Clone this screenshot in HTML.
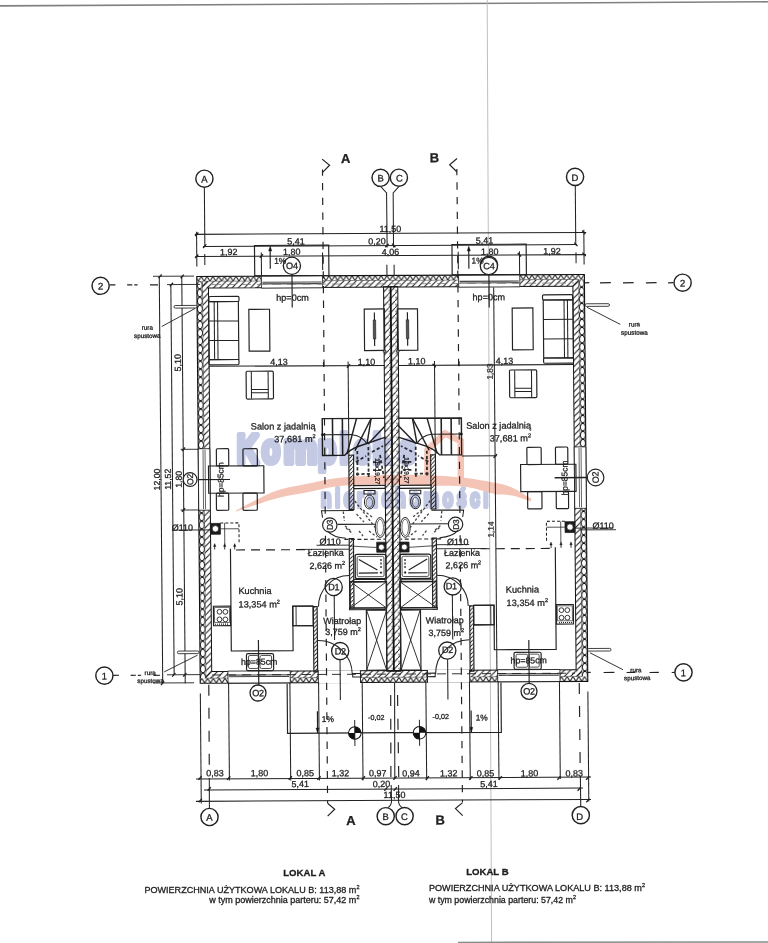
<!DOCTYPE html>
<html><head><meta charset="utf-8"><style>
html,body{margin:0;padding:0;background:#fff;}
svg{display:block;}
text{font-family:"Liberation Sans",sans-serif;}
.d text{stroke:#222;stroke-width:0.28px;}
</style></head><body>
<svg width="768" height="943" viewBox="0 0 768 943">
<rect width="768" height="943" fill="#fff"/>

<defs>
<pattern id="zzT" patternUnits="userSpaceOnUse" x="0" y="275.5" width="5.8" height="4.9"><path d="M0 0 L2.9 4.9 L5.8 0" fill="none" stroke="#111" stroke-width="1.0"/></pattern>
<pattern id="zzB" patternUnits="userSpaceOnUse" x="0" y="677.3" width="5.8" height="5.0"><path d="M0 5 L2.9 0 L5.8 5" fill="none" stroke="#111" stroke-width="1.0"/></pattern>
<pattern id="dmL" patternUnits="userSpaceOnUse" x="198.5" y="0" width="5.7" height="8.0"><path d="M2.85 -8.6 Q -2.3 -4.0 2.85 0.6 Q 8.0 -4.0 2.85 -8.6 M2.85 -0.6 Q -2.3 4.0 2.85 8.6 Q 8.0 4.0 2.85 -0.6 M2.85 7.4 Q -2.3 12.0 2.85 16.6 Q 8.0 12.0 2.85 7.4" fill="none" stroke="#111" stroke-width="0.9"/></pattern>
<pattern id="dmR" patternUnits="userSpaceOnUse" x="580.4" y="0" width="5.7" height="8.0"><path d="M2.85 -8.6 Q -2.3 -4.0 2.85 0.6 Q 8.0 -4.0 2.85 -8.6 M2.85 -0.6 Q -2.3 4.0 2.85 8.6 Q 8.0 4.0 2.85 -0.6 M2.85 7.4 Q -2.3 12.0 2.85 16.6 Q 8.0 12.0 2.85 7.4" fill="none" stroke="#111" stroke-width="0.9"/></pattern>
<pattern id="dh" patternUnits="userSpaceOnUse" width="6.2" height="6.2"><path d="M-1 7.2 L7.2 -1 M-1 1 L1 -1 M5.2 7.2 L7.2 5.2" fill="none" stroke="#111" stroke-width="1.0"/></pattern>
<pattern id="dh2" patternUnits="userSpaceOnUse" width="4" height="4"><path d="M-1 5 L5 -1" fill="none" stroke="#111" stroke-width="0.85"/></pattern>
<pattern id="brick" patternUnits="userSpaceOnUse" width="6.5" height="7"><path d="M0 7 L6.5 0" fill="none" stroke="#111" stroke-width="0.95"/><path d="M0 3.5 L3 3.5" stroke="#111" stroke-width="0.7"/></pattern>
</defs>
<g>
<line x1="0" y1="5.9" x2="768" y2="1.8" stroke="#808080" stroke-width="1.6"/>
<line x1="487.2" y1="0" x2="491.6" y2="943" stroke="#b8b8b8" stroke-width="0.9"/>
<line x1="458" y1="942.3" x2="768" y2="942.0" stroke="#8a8a8a" stroke-width="1.3"/>

<g class="d" transform="matrix(1,-0.00490,0.00848,1,-4.0704,1.9110)" font-family="Liberation Sans">
<rect x="198.5" y="275.5" width="387.6" height="4.9" fill="url(#zzT)"/>
<rect x="204.2" y="280.4" width="376.2" height="6.7" fill="url(#dh)"/>
<rect x="198.5" y="677.3" width="387.6" height="5.0" fill="url(#zzB)"/>
<rect x="204.2" y="670.7" width="376.2" height="6.6" fill="url(#dh)"/>
<rect x="198.5" y="280.4" width="5.7" height="396.9" fill="url(#dmL)"/>
<rect x="580.4" y="280.4" width="5.7" height="396.9" fill="url(#dmR)"/>
<rect x="204.2" y="280.4" width="5.9" height="396.9" fill="url(#dh)"/>
<rect x="574.5" y="280.4" width="5.9" height="396.9" fill="url(#dh)"/>
<rect x="198.5" y="275.5" width="387.6" height="406.8" fill="none" stroke="#111" stroke-width="1.1"/>
<rect x="210.1" y="287.1" width="364.4" height="383.6" fill="none" stroke="#111" stroke-width="1"/>
<rect x="204.2" y="280.4" width="376.2" height="396.9" fill="none" stroke="#333" stroke-width="0.5"/>
<rect x="385.2" y="286.6" width="14.2" height="384.6" fill="url(#brick)" stroke="#111" stroke-width="1"/>
<line x1="392.3" y1="287.1" x2="392.3" y2="670.7" stroke="#111" stroke-width="1.8"/>
<rect x="263.1" y="275.5" width="61.2" height="12" fill="#fff" stroke="#111" stroke-width="0.8"/>
<line x1="264.1" y1="281.7" x2="323.3" y2="281.7" stroke="#444" stroke-width="1.1"/>
<line x1="264.1" y1="283.3" x2="323.3" y2="283.3" stroke="#444" stroke-width="1.1"/>
<rect x="198.5" y="447.8" width="11.6" height="61.5" fill="#fff" stroke="#111" stroke-width="0.8"/>
<line x1="203.3" y1="448.8" x2="203.3" y2="508.3" stroke="#555" stroke-width="0.9"/>
<line x1="205.3" y1="448.8" x2="205.3" y2="508.3" stroke="#555" stroke-width="0.9"/>
<rect x="226.3" y="670.3" width="62.3" height="12" fill="#fff" stroke="#111" stroke-width="0.8"/>
<line x1="227.3" y1="674.3" x2="287.6" y2="674.3" stroke="#444" stroke-width="1.1"/>
<line x1="227.3" y1="675.9" x2="287.6" y2="675.9" stroke="#444" stroke-width="1.1"/>
<rect x="316.6" y="670.1" width="42.2" height="12.8" fill="#fff"/>
<line x1="316.6" y1="670.2" x2="316.6" y2="682.8" stroke="#111" stroke-width="0.9"/>
<line x1="358.8" y1="670.2" x2="358.8" y2="682.8" stroke="#111" stroke-width="0.9"/>
<rect x="460.3" y="275.5" width="61.2" height="12" fill="#fff" stroke="#111" stroke-width="0.8"/>
<line x1="461.3" y1="281.7" x2="520.5" y2="281.7" stroke="#444" stroke-width="1.1"/>
<line x1="461.3" y1="283.3" x2="520.5" y2="283.3" stroke="#444" stroke-width="1.1"/>
<rect x="574.5" y="447.8" width="11.6" height="61.5" fill="#fff" stroke="#111" stroke-width="0.8"/>
<line x1="579.3" y1="448.8" x2="579.3" y2="508.3" stroke="#555" stroke-width="0.9"/>
<line x1="581.3" y1="448.8" x2="581.3" y2="508.3" stroke="#555" stroke-width="0.9"/>
<rect x="496" y="670.3" width="62.3" height="12" fill="#fff" stroke="#111" stroke-width="0.8"/>
<line x1="497" y1="674.3" x2="557.3" y2="674.3" stroke="#444" stroke-width="1.1"/>
<line x1="497" y1="675.9" x2="557.3" y2="675.9" stroke="#444" stroke-width="1.1"/>
<rect x="425.8" y="670.1" width="42.2" height="12.8" fill="#fff"/>
<line x1="425.8" y1="670.2" x2="425.8" y2="682.8" stroke="#111" stroke-width="0.9"/>
<line x1="468" y1="670.2" x2="468" y2="682.8" stroke="#111" stroke-width="0.9"/>
<rect x="351.05" y="673.33" width="8.3" height="3.5" fill="none" stroke="#222" stroke-width="1.04"/>
<rect x="425.25" y="673.33" width="8.3" height="3.5" fill="none" stroke="#222" stroke-width="1.04"/>
<rect x="348.98" y="455.01" width="4.75" height="54.2" fill="url(#dh2)" stroke="#222" stroke-width="1.17"/>
<rect x="430.87" y="455.01" width="4.75" height="54.2" fill="url(#dh2)" stroke="#222" stroke-width="1.17"/>
<rect x="348.7" y="538.41" width="4.25" height="70.9" fill="url(#dh2)" stroke="#222" stroke-width="1.17"/>
<rect x="431.65" y="538.41" width="4.25" height="70.9" fill="url(#dh2)" stroke="#222" stroke-width="1.17"/>
<rect x="312.25" y="606.23" width="3.8" height="65.4" fill="url(#dh2)" stroke="#222" stroke-width="1.17"/>
<rect x="468.55" y="606.23" width="3.8" height="65.4" fill="url(#dh2)" stroke="#222" stroke-width="1.17"/>
<rect x="353.69" y="485.4" width="31.45" height="3" fill="#fff" stroke="#222" stroke-width="1.17"/>
<rect x="399.46" y="485.4" width="31.45" height="3" fill="#fff" stroke="#222" stroke-width="1.17"/>
<rect x="352.9" y="579.3" width="31.45" height="2.6" fill="#fff" stroke="#222" stroke-width="1.17"/>
<rect x="400.25" y="579.3" width="31.45" height="2.6" fill="#fff" stroke="#222" stroke-width="1.17"/>
<rect x="348.41" y="607.78" width="35.7" height="1.7" fill="#fff" stroke="#222" stroke-width="1.04"/>
<rect x="400.49" y="607.78" width="35.7" height="1.7" fill="#fff" stroke="#222" stroke-width="1.04"/>
<line x1="206.84" y1="186.4" x2="206.84" y2="246.1" stroke="#222" stroke-width="1.04"/>
<line x1="577.76" y1="186.4" x2="577.76" y2="246.1" stroke="#222" stroke-width="1.04"/>
<line x1="206.68" y1="253.1" x2="206.68" y2="264.1" stroke="#222" stroke-width="1.04"/>
<line x1="577.92" y1="253.1" x2="577.92" y2="264.1" stroke="#222" stroke-width="1.04"/>
<path d="M 383.3 186.59 L 389 192.99 L 389.1 247.49" fill="none" stroke="#222" stroke-width="1.04"/>
<path d="M 401.3 186.59 L 395.6 192.99 L 395.5 247.49" fill="none" stroke="#222" stroke-width="1.04"/>
<line x1="388.68" y1="264.79" x2="388.68" y2="275.99" stroke="#222" stroke-width="1.04"/>
<line x1="395.92" y1="264.79" x2="395.92" y2="275.99" stroke="#222" stroke-width="1.04"/>
<line x1="207.07" y1="683.9" x2="206.85" y2="769.1" stroke="#222" stroke-width="1.17" stroke-dasharray="11 12"/>
<line x1="577.53" y1="683.9" x2="577.75" y2="769.1" stroke="#222" stroke-width="1.17" stroke-dasharray="11 12"/>
<line x1="206.78" y1="777" x2="206.62" y2="807.6" stroke="#222" stroke-width="1.04"/>
<line x1="577.82" y1="777" x2="577.98" y2="807.6" stroke="#222" stroke-width="1.04"/>
<line x1="388.88" y1="694.99" x2="388.38" y2="776.99" stroke="#222" stroke-width="1.17" stroke-dasharray="11 12.7"/>
<line x1="395.72" y1="694.99" x2="396.22" y2="776.99" stroke="#222" stroke-width="1.17" stroke-dasharray="11 12.7"/>
<path d="M 388.59 784.99 L 388.79 800.99 Q 388.79 805.49 384.79 807.79" fill="none" stroke="#222" stroke-width="1.04"/>
<path d="M 396.01 784.99 L 395.81 800.99 Q 395.81 805.49 399.81 807.79" fill="none" stroke="#222" stroke-width="1.04"/>
<line x1="392.88" y1="683.01" x2="392.26" y2="779.01" stroke="#222" stroke-width="1.04"/>
<line x1="325.13" y1="169.28" x2="325.13" y2="175.48" stroke="#222" stroke-width="1.17"/>
<line x1="459.47" y1="169.28" x2="459.47" y2="175.48" stroke="#222" stroke-width="1.17"/>
<line x1="325.07" y1="182.68" x2="324.86" y2="802.68" stroke="#222" stroke-width="1.17" stroke-dasharray="7.3 7.4"/>
<line x1="459.53" y1="182.68" x2="459.74" y2="802.68" stroke="#222" stroke-width="1.17" stroke-dasharray="7.3 7.4"/>
<path d="M 324.87 158.79 L 332.27 164.99 L 325.17 172.09" fill="none" stroke="#222" stroke-width="1.17"/>
<path d="M 459.73 158.79 L 452.33 164.99 L 459.43 172.09" fill="none" stroke="#222" stroke-width="1.17"/>
<path d="M 324.81 802.99 L 331.91 808.89 L 324.81 815.89" fill="none" stroke="#222" stroke-width="1.17"/>
<path d="M 459.79 802.99 L 452.69 808.89 L 459.79 815.89" fill="none" stroke="#222" stroke-width="1.17"/>
<line x1="111.27" y1="283.55" x2="117.07" y2="283.55" stroke="#222" stroke-width="1.17"/>
<line x1="128.77" y1="283.63" x2="133.97" y2="283.63" stroke="#222" stroke-width="1.17"/>
<line x1="135.96" y1="283.66" x2="139.26" y2="283.66" stroke="#222" stroke-width="1.17"/>
<line x1="151.66" y1="283.75" x2="159.66" y2="283.75" stroke="#222" stroke-width="1.17"/>
<line x1="586.26" y1="283.76" x2="590.96" y2="283.68" stroke="#222" stroke-width="1.17"/>
<line x1="601.66" y1="283.84" x2="612.46" y2="283.79" stroke="#222" stroke-width="1.17"/>
<line x1="624.66" y1="283.95" x2="635.36" y2="283.9" stroke="#222" stroke-width="1.17"/>
<line x1="647.56" y1="284.06" x2="658.26" y2="284.01" stroke="#222" stroke-width="1.17"/>
<line x1="669.76" y1="284.17" x2="675.16" y2="284.1" stroke="#222" stroke-width="1.17"/>
<line x1="111.56" y1="673.95" x2="117.36" y2="673.95" stroke="#222" stroke-width="1.17"/>
<line x1="129.05" y1="674.03" x2="134.25" y2="674.03" stroke="#222" stroke-width="1.17"/>
<line x1="136.25" y1="674.06" x2="139.55" y2="674.06" stroke="#222" stroke-width="1.17"/>
<line x1="151.95" y1="674.15" x2="158.35" y2="674.15" stroke="#222" stroke-width="1.17"/>
<line x1="585.76" y1="673.46" x2="589.06" y2="673.38" stroke="#222" stroke-width="1.17"/>
<line x1="601.96" y1="673.54" x2="612.76" y2="673.49" stroke="#222" stroke-width="1.17"/>
<line x1="624.96" y1="673.65" x2="633.56" y2="673.59" stroke="#222" stroke-width="1.17"/>
<line x1="647.86" y1="673.76" x2="657.16" y2="673.71" stroke="#222" stroke-width="1.17"/>
<line x1="670.06" y1="673.87" x2="673.66" y2="673.79" stroke="#222" stroke-width="1.17"/>
<line x1="210.35" y1="674.12" x2="573.35" y2="674.1" stroke="#222" stroke-width="0.91" stroke-dasharray="9 6"/>
<line x1="213.66" y1="283.74" x2="575.66" y2="283.91" stroke="#777" stroke-width="0.78" stroke-dasharray="9 6"/>
<circle cx="206.96" cy="177.8" r="8.6" fill="#fff" stroke="#222" stroke-width="1.43"/>
<circle cx="577.64" cy="177.8" r="8.6" fill="#fff" stroke="#222" stroke-width="1.43"/>
<circle cx="383.16" cy="177.77" r="8.6" fill="#fff" stroke="#222" stroke-width="1.43"/>
<circle cx="401.44" cy="177.77" r="8.6" fill="#fff" stroke="#222" stroke-width="1.43"/>
<circle cx="206.65" cy="816.1" r="8.6" fill="#fff" stroke="#222" stroke-width="1.43"/>
<circle cx="577.95" cy="816.1" r="8.6" fill="#fff" stroke="#222" stroke-width="1.43"/>
<circle cx="382.85" cy="816.16" r="8.6" fill="#fff" stroke="#222" stroke-width="1.43"/>
<circle cx="401.75" cy="816.16" r="8.6" fill="#fff" stroke="#222" stroke-width="1.43"/>
<circle cx="102.26" cy="284.39" r="8.6" fill="#fff" stroke="#222" stroke-width="1.43"/>
<circle cx="102.75" cy="674.19" r="8.6" fill="#fff" stroke="#222" stroke-width="1.43"/>
<circle cx="684.26" cy="284.14" r="8.6" fill="#fff" stroke="#222" stroke-width="1.43"/>
<circle cx="681.86" cy="673.83" r="8.6" fill="#fff" stroke="#222" stroke-width="1.43"/>
<text x="206.96" y="178.1" font-size="9.5" text-anchor="middle" dominant-baseline="central" fill="#222">A</text>
<text x="383.16" y="178.07" font-size="9.5" text-anchor="middle" dominant-baseline="central" fill="#222">B</text>
<text x="402.06" y="178.16" font-size="9.5" text-anchor="middle" dominant-baseline="central" fill="#222">C</text>
<text x="577.36" y="178.42" font-size="9.5" text-anchor="middle" dominant-baseline="central" fill="#222">D</text>
<text x="206.65" y="816.4" font-size="9.5" text-anchor="middle" dominant-baseline="central" fill="#222">A</text>
<text x="382.85" y="816.46" font-size="9.5" text-anchor="middle" dominant-baseline="central" fill="#222">B</text>
<text x="401.55" y="816.56" font-size="9.5" text-anchor="middle" dominant-baseline="central" fill="#222">C</text>
<text x="576.84" y="817.42" font-size="9.5" text-anchor="middle" dominant-baseline="central" fill="#222">D</text>
<text x="102.26" y="284.69" font-size="9.5" text-anchor="middle" dominant-baseline="central" fill="#222">2</text>
<text x="102.75" y="674.49" font-size="9.5" text-anchor="middle" dominant-baseline="central" fill="#222">1</text>
<text x="684.26" y="284.44" font-size="9.5" text-anchor="middle" dominant-baseline="central" fill="#222">2</text>
<text x="681.85" y="674.13" font-size="9.5" text-anchor="middle" dominant-baseline="central" fill="#222">1</text>
<text x="348.33" y="158.4" font-size="13" text-anchor="middle" dominant-baseline="central" font-weight="bold" fill="#222">A</text>
<text x="437.13" y="158.03" font-size="13" text-anchor="middle" dominant-baseline="central" font-weight="bold" fill="#222">B</text>
<text x="348.11" y="820.29" font-size="13" text-anchor="middle" dominant-baseline="central" font-weight="bold" fill="#222">A</text>
<text x="437.32" y="820.13" font-size="13" text-anchor="middle" dominant-baseline="central" font-weight="bold" fill="#222">B</text>
<line x1="196.89" y1="233.41" x2="588.29" y2="233.41" stroke="#222" stroke-width="1.04"/>
<line x1="204.99" y1="245.51" x2="578.99" y2="245.51" stroke="#222" stroke-width="1.04"/>
<line x1="197.2" y1="255.61" x2="587.9" y2="255.61" stroke="#222" stroke-width="1.04"/>
<line x1="198.67" y1="230.76" x2="198.67" y2="265.56" stroke="#222" stroke-width="1.04"/>
<line x1="585.93" y1="230.76" x2="585.93" y2="265.56" stroke="#222" stroke-width="1.04"/>
<line x1="263.23" y1="251.88" x2="263.23" y2="275.38" stroke="#222" stroke-width="1.04"/>
<line x1="521.37" y1="251.88" x2="521.37" y2="275.38" stroke="#222" stroke-width="1.04"/>
<line x1="324.46" y1="252.18" x2="324.46" y2="269.68" stroke="#222" stroke-width="1.04"/>
<line x1="460.14" y1="252.18" x2="460.14" y2="269.68" stroke="#222" stroke-width="1.04"/>
<line x1="197.18" y1="235.16" x2="200.41" y2="231.57" stroke="#222" stroke-width="1.3"/>
<line x1="587.42" y1="235.16" x2="584.19" y2="231.57" stroke="#222" stroke-width="1.3"/>
<line x1="196.99" y1="257.15" x2="200.22" y2="253.57" stroke="#222" stroke-width="1.3"/>
<line x1="587.61" y1="257.15" x2="584.38" y2="253.57" stroke="#222" stroke-width="1.3"/>
<line x1="205.08" y1="247.09" x2="208.31" y2="243.51" stroke="#222" stroke-width="1.3"/>
<line x1="579.52" y1="247.09" x2="576.29" y2="243.51" stroke="#222" stroke-width="1.3"/>
<line x1="261.69" y1="257.17" x2="264.92" y2="253.59" stroke="#222" stroke-width="1.3"/>
<line x1="522.91" y1="257.17" x2="519.68" y2="253.59" stroke="#222" stroke-width="1.3"/>
<line x1="387.27" y1="247.29" x2="390.5" y2="243.7" stroke="#222" stroke-width="1.3"/>
<line x1="397.33" y1="247.29" x2="394.1" y2="243.7" stroke="#222" stroke-width="1.3"/>
<text x="392.43" y="229.01" font-size="9.0" text-anchor="middle" dominant-baseline="central" fill="#222">11,50</text>
<text x="298.03" y="240.95" font-size="9.0" text-anchor="middle" dominant-baseline="central" fill="#222">5,41</text>
<text x="379.02" y="241.35" font-size="9.0" text-anchor="middle" dominant-baseline="central" fill="#222">0,20</text>
<text x="486.63" y="241.07" font-size="9.0" text-anchor="middle" dominant-baseline="central" fill="#222">5,41</text>
<text x="230.64" y="251.32" font-size="9.0" text-anchor="middle" dominant-baseline="central" fill="#222">1,92</text>
<text x="293.64" y="251.43" font-size="9.0" text-anchor="middle" dominant-baseline="central" fill="#222">1,80</text>
<text x="392.53" y="252.11" font-size="9.0" text-anchor="middle" dominant-baseline="central" fill="#222">4,06</text>
<text x="491.63" y="252.2" font-size="9.0" text-anchor="middle" dominant-baseline="central" fill="#222">1,80</text>
<text x="553.83" y="252.1" font-size="9.0" text-anchor="middle" dominant-baseline="central" fill="#222">1,92</text>
<rect x="256.47" y="244.83" width="74.2" height="30.4" fill="none" stroke="#222" stroke-width="1.17"/>
<rect x="453.93" y="244.83" width="74.2" height="30.4" fill="none" stroke="#222" stroke-width="1.17"/>
<circle cx="293.72" cy="265.33" r="8.6" fill="#fff" stroke="#222" stroke-width="1.3"/>
<circle cx="490.88" cy="265.33" r="8.6" fill="#fff" stroke="#222" stroke-width="1.3"/>
<text x="293.72" y="265.63" font-size="9.2" text-anchor="middle" dominant-baseline="central" letter-spacing="-0.3" fill="#222">O4</text>
<circle cx="490.71" cy="266.49" r="8.6" fill="#fff" stroke="#222" stroke-width="1.3"/>
<text x="490.71" y="266.79" font-size="9.2" text-anchor="middle" dominant-baseline="central" letter-spacing="-0.3" fill="#222">C4</text>
<line x1="293.71" y1="274.13" x2="293.71" y2="306.93" stroke="#222" stroke-width="1.17"/>
<line x1="490.64" y1="275.09" x2="490.66" y2="307.89" stroke="#222" stroke-width="1.17"/>
<line x1="272.08" y1="268.12" x2="272.08" y2="247.92" stroke="#222" stroke-width="1.17"/>
<path d="M 270.56 250.42 L 272.16 245.42 L 273.76 250.42 Z" fill="#111" stroke="#222" stroke-width="0.39"/>
<text x="282.06" y="260.27" font-size="8.4" text-anchor="middle" dominant-baseline="central" fill="#222">1%</text>
<line x1="470.67" y1="269.1" x2="470.67" y2="248.9" stroke="#222" stroke-width="1.17"/>
<path d="M 469.15 251.4 L 470.75 246.4 L 472.35 251.4 Z" fill="#111" stroke="#222" stroke-width="0.39"/>
<text x="479.46" y="261.04" font-size="8.4" text-anchor="middle" dominant-baseline="central" fill="#222">1%</text>
<text x="294.05" y="297.33" font-size="9.1" text-anchor="middle" dominant-baseline="central" fill="#222">hp=0cm</text>
<text x="490.35" y="297.69" font-size="9.1" text-anchor="middle" dominant-baseline="central" fill="#222">hp=0cm</text>
<line x1="161.01" y1="275.18" x2="161.01" y2="682.18" stroke="#222" stroke-width="1.04"/>
<line x1="172.51" y1="283.33" x2="172.51" y2="673.93" stroke="#222" stroke-width="1.04"/>
<line x1="183.51" y1="275.29" x2="183.51" y2="682.29" stroke="#222" stroke-width="1.04"/>
<line x1="154.74" y1="275.15" x2="195.74" y2="275.15" stroke="#222" stroke-width="0.91"/>
<line x1="168.67" y1="283.52" x2="201.67" y2="283.48" stroke="#222" stroke-width="0.91"/>
<line x1="151.29" y1="681.83" x2="192.29" y2="681.83" stroke="#222" stroke-width="0.91"/>
<line x1="165.36" y1="673.7" x2="198.36" y2="673.66" stroke="#222" stroke-width="0.91"/>
<line x1="160.22" y1="276.97" x2="163.45" y2="273.39" stroke="#222" stroke-width="1.3"/>
<line x1="171.45" y1="285.33" x2="174.68" y2="281.74" stroke="#222" stroke-width="1.3"/>
<line x1="182.32" y1="277.18" x2="185.55" y2="273.6" stroke="#222" stroke-width="1.3"/>
<line x1="182.15" y1="450.08" x2="185.38" y2="446.5" stroke="#222" stroke-width="1.3"/>
<line x1="181.64" y1="510.78" x2="184.87" y2="507.19" stroke="#222" stroke-width="1.3"/>
<line x1="170.54" y1="675.52" x2="173.77" y2="671.94" stroke="#222" stroke-width="1.3"/>
<line x1="181.54" y1="675.58" x2="184.77" y2="671.99" stroke="#222" stroke-width="1.3"/>
<line x1="159.27" y1="683.87" x2="162.5" y2="680.29" stroke="#222" stroke-width="1.3"/>
<line x1="180.87" y1="448.32" x2="199.27" y2="448.32" stroke="#222" stroke-width="0.91"/>
<line x1="180.35" y1="509.02" x2="198.75" y2="509.02" stroke="#222" stroke-width="0.91"/>
<text x="178.9" y="361.77" font-size="9.0" text-anchor="middle" dominant-baseline="central" transform="rotate(-90 178.9 361.77)" fill="#222">5,10</text>
<text x="178.52" y="595.66" font-size="9.0" text-anchor="middle" dominant-baseline="central" transform="rotate(-90 178.52 595.66)" fill="#222">5,10</text>
<text x="157.01" y="478.36" font-size="8.7" text-anchor="middle" dominant-baseline="central" transform="rotate(-90 157.01 478.36)" fill="#222">12,00</text>
<text x="167.92" y="478.21" font-size="8.7" text-anchor="middle" dominant-baseline="central" transform="rotate(-90 167.92 478.21)" fill="#222">11,52</text>
<text x="178.81" y="478.27" font-size="8.7" text-anchor="middle" dominant-baseline="central" transform="rotate(-90 178.81 478.27)" fill="#222">1,80</text>
<line x1="495.3" y1="288.02" x2="495.3" y2="671.02" stroke="#222" stroke-width="1.04"/>
<line x1="493.68" y1="458.21" x2="497.32" y2="454.63" stroke="#222" stroke-width="1.3"/>
<line x1="462.2" y1="456.34" x2="497.2" y2="456.34" stroke="#222" stroke-width="1.04"/>
<text x="491.12" y="372" font-size="8.2" text-anchor="middle" dominant-baseline="central" transform="rotate(-90 491.12 372)" fill="#555">1,83</text>
<text x="490.88" y="529.99" font-size="8.2" text-anchor="middle" dominant-baseline="central" transform="rotate(-90 490.88 529.99)" fill="#555">1,14</text>
<line x1="198.53" y1="692.56" x2="198.53" y2="802.46" stroke="#222" stroke-width="1.04"/>
<line x1="586.07" y1="692.56" x2="586.07" y2="802.46" stroke="#222" stroke-width="1.04"/>
<line x1="226.87" y1="681.7" x2="226.87" y2="779.7" stroke="#222" stroke-width="1.04"/>
<line x1="557.73" y1="681.7" x2="557.73" y2="779.7" stroke="#222" stroke-width="1.04"/>
<line x1="288.17" y1="682" x2="288.17" y2="780" stroke="#222" stroke-width="1.04"/>
<line x1="496.43" y1="682" x2="496.43" y2="780" stroke="#222" stroke-width="1.04"/>
<line x1="316.87" y1="682.14" x2="316.87" y2="780.14" stroke="#222" stroke-width="1.04"/>
<line x1="467.73" y1="682.14" x2="467.73" y2="780.14" stroke="#222" stroke-width="1.04"/>
<line x1="360.47" y1="682.36" x2="360.47" y2="780.36" stroke="#222" stroke-width="1.04"/>
<line x1="424.13" y1="682.36" x2="424.13" y2="780.36" stroke="#222" stroke-width="1.04"/>
<line x1="193.47" y1="778" x2="588.47" y2="778" stroke="#222" stroke-width="1.04"/>
<line x1="201.38" y1="789" x2="580.38" y2="789" stroke="#222" stroke-width="1.04"/>
<line x1="193.28" y1="800.4" x2="588.28" y2="800.4" stroke="#222" stroke-width="1.04"/>
<line x1="195.87" y1="778.85" x2="199.1" y2="775.26" stroke="#222" stroke-width="1.3"/>
<line x1="224.56" y1="778.99" x2="227.79" y2="775.41" stroke="#222" stroke-width="1.3"/>
<line x1="286.16" y1="779.29" x2="289.39" y2="775.71" stroke="#222" stroke-width="1.3"/>
<line x1="314.86" y1="779.43" x2="318.09" y2="775.85" stroke="#222" stroke-width="1.3"/>
<line x1="359.26" y1="779.65" x2="362.49" y2="776.07" stroke="#222" stroke-width="1.3"/>
<line x1="390.86" y1="779.8" x2="394.09" y2="776.22" stroke="#222" stroke-width="1.3"/>
<line x1="423.16" y1="779.96" x2="426.39" y2="776.38" stroke="#222" stroke-width="1.3"/>
<line x1="466.65" y1="780.18" x2="469.88" y2="776.59" stroke="#222" stroke-width="1.3"/>
<line x1="496.15" y1="780.32" x2="499.38" y2="776.74" stroke="#222" stroke-width="1.3"/>
<line x1="554.85" y1="780.61" x2="558.08" y2="777.02" stroke="#222" stroke-width="1.3"/>
<line x1="583.55" y1="780.75" x2="586.78" y2="777.16" stroke="#222" stroke-width="1.3"/>
<line x1="204.97" y1="789.89" x2="208.2" y2="786.31" stroke="#222" stroke-width="1.3"/>
<line x1="381.66" y1="790.76" x2="384.9" y2="787.17" stroke="#222" stroke-width="1.3"/>
<line x1="391.06" y1="790.81" x2="394.29" y2="787.22" stroke="#222" stroke-width="1.3"/>
<line x1="574.96" y1="791.71" x2="578.19" y2="788.12" stroke="#222" stroke-width="1.3"/>
<line x1="195.98" y1="801.25" x2="199.21" y2="797.67" stroke="#222" stroke-width="1.3"/>
<line x1="583.56" y1="803.15" x2="586.79" y2="799.56" stroke="#222" stroke-width="1.3"/>
<text x="212.52" y="772.43" font-size="9.0" text-anchor="middle" dominant-baseline="central" fill="#222">0,83</text>
<text x="256.92" y="772.65" font-size="9.0" text-anchor="middle" dominant-baseline="central" fill="#222">1,80</text>
<text x="302.72" y="772.87" font-size="9.0" text-anchor="middle" dominant-baseline="central" fill="#222">0,85</text>
<text x="338.01" y="773.05" font-size="9.0" text-anchor="middle" dominant-baseline="central" fill="#222">1,32</text>
<text x="375.21" y="773.23" font-size="9.0" text-anchor="middle" dominant-baseline="central" fill="#222">0,97</text>
<text x="408.51" y="773.49" font-size="9.0" text-anchor="middle" dominant-baseline="central" fill="#222">0,94</text>
<text x="446.31" y="773.68" font-size="9.0" text-anchor="middle" dominant-baseline="central" fill="#222">1,32</text>
<text x="482.91" y="773.86" font-size="9.0" text-anchor="middle" dominant-baseline="central" fill="#222">0,85</text>
<text x="527.11" y="774.07" font-size="9.0" text-anchor="middle" dominant-baseline="central" fill="#222">1,80</text>
<text x="571.7" y="774.29" font-size="9.0" text-anchor="middle" dominant-baseline="central" fill="#222">0,83</text>
<text x="297.73" y="783.65" font-size="9.0" text-anchor="middle" dominant-baseline="central" fill="#222">5,41</text>
<text x="378.82" y="784.05" font-size="9.0" text-anchor="middle" dominant-baseline="central" fill="#222">0,20</text>
<text x="486.32" y="784.57" font-size="9.0" text-anchor="middle" dominant-baseline="central" fill="#222">5,41</text>
<text x="391.83" y="795.01" font-size="9.0" text-anchor="middle" dominant-baseline="central" fill="#222">11,50</text>
<path d="M 285.4 683.16 L 285.4 732.86 L 393 732.66" fill="none" stroke="#222" stroke-width="1.17"/>
<path d="M 499.2 683.16 L 499.2 732.86 L 391.6 732.66" fill="none" stroke="#222" stroke-width="1.17"/>
<line x1="315.45" y1="710.93" x2="315.45" y2="732.63" stroke="#222" stroke-width="1.17"/>
<line x1="469.15" y1="710.93" x2="469.15" y2="732.63" stroke="#222" stroke-width="1.17"/>
<path d="M 313.89 727.63 L 315.39 732.63 L 316.89 727.63 Z" fill="#111" stroke="#222" stroke-width="0.39"/>
<path d="M 470.71 727.63 L 469.21 732.63 L 467.71 727.63 Z" fill="#111" stroke="#222" stroke-width="0.39"/>
<text x="325.78" y="718.59" font-size="8.4" text-anchor="middle" dominant-baseline="central" fill="#222">1%</text>
<text x="479.68" y="717.94" font-size="8.4" text-anchor="middle" dominant-baseline="central" fill="#222">1%</text>
<circle cx="352.66" cy="732.82" r="6.3" fill="#fff" stroke="#111" stroke-width="1"/>
<path d="M 352.66 732.82 L 352.66 726.52 A 6.3 6.3 0 0 1 358.96 732.82 Z" fill="#111"/>
<path d="M 352.66 732.82 L 352.66 739.12 A 6.3 6.3 0 0 1 346.36 732.82 Z" fill="#111"/>
<line x1="352.66" y1="719.82" x2="352.66" y2="745.82" stroke="#111" stroke-width="0.9"/>
<circle cx="417.36" cy="732.93" r="6.3" fill="#fff" stroke="#111" stroke-width="1"/>
<path d="M 417.36 732.93 L 417.36 726.63 A 6.3 6.3 0 0 1 423.66 732.93 Z" fill="#111"/>
<path d="M 417.36 732.93 L 417.36 739.23 A 6.3 6.3 0 0 1 411.06 732.93 Z" fill="#111"/>
<line x1="417.36" y1="719.93" x2="417.36" y2="745.93" stroke="#111" stroke-width="0.9"/>
<text x="374.29" y="717.42" font-size="7.2" text-anchor="middle" dominant-baseline="central" fill="#222">-0,02</text>
<text x="438.69" y="716.84" font-size="7.2" text-anchor="middle" dominant-baseline="central" fill="#222">-0,02</text>
<circle cx="256.2" cy="692.34" r="8.0" fill="#fff" stroke="#222" stroke-width="1.3"/>
<circle cx="527.2" cy="691.97" r="8.0" fill="#fff" stroke="#222" stroke-width="1.3"/>
<text x="256.2" y="692.64" font-size="9.2" text-anchor="middle" dominant-baseline="central" letter-spacing="-0.3" fill="#222">O2</text>
<text x="527.2" y="692.27" font-size="9.2" text-anchor="middle" dominant-baseline="central" letter-spacing="-0.3" fill="#222">O2</text>
<line x1="257.06" y1="639.35" x2="257.06" y2="684.35" stroke="#222" stroke-width="1.17"/>
<line x1="527.45" y1="640.67" x2="527.45" y2="684.17" stroke="#222" stroke-width="1.17"/>
<rect x="175.48" y="304.45" width="23" height="2.6" rx="1.3" fill="#fff" stroke="#111" stroke-width="0.8"/>
<rect x="175.95" y="650.05" width="21.6" height="2.6" rx="1.3" fill="#fff" stroke="#111" stroke-width="0.8"/>
<rect x="586.47" y="304.76" width="24.5" height="2.6" rx="1.3" fill="#fff" stroke="#111" stroke-width="0.8"/>
<rect x="586.05" y="649.46" width="23.5" height="2.6" rx="1.3" fill="#fff" stroke="#111" stroke-width="0.8"/>
<line x1="163.01" y1="325.39" x2="196.46" y2="307.55" stroke="#222" stroke-width="0.91"/>
<line x1="162.58" y1="670.79" x2="196.02" y2="654.25" stroke="#222" stroke-width="0.91"/>
<line x1="621.61" y1="325.53" x2="588.46" y2="308.27" stroke="#222" stroke-width="0.91"/>
<line x1="621.38" y1="670.83" x2="588.53" y2="653.77" stroke="#222" stroke-width="0.91"/>
<text x="148.6" y="326.12" font-size="6.3" text-anchor="middle" dominant-baseline="central" fill="#222">rura</text>
<text x="148.54" y="334.22" font-size="6.3" text-anchor="middle" dominant-baseline="central" fill="#222">spustowa</text>
<text x="148.58" y="671.42" font-size="6.3" text-anchor="middle" dominant-baseline="central" fill="#222">rura</text>
<text x="148.91" y="679.22" font-size="6.3" text-anchor="middle" dominant-baseline="central" fill="#222">spustowa</text>
<text x="635.71" y="325.1" font-size="6.3" text-anchor="middle" dominant-baseline="central" fill="#222">rura</text>
<text x="635.64" y="333.4" font-size="6.3" text-anchor="middle" dominant-baseline="central" fill="#222">spustowa</text>
<text x="634.28" y="670.9" font-size="6.3" text-anchor="middle" dominant-baseline="central" fill="#222">rura</text>
<text x="635.61" y="678.8" font-size="6.3" text-anchor="middle" dominant-baseline="central" fill="#222">spustowa</text>
<rect x="210.44" y="295.59" width="30.1" height="5.2" fill="none" stroke="#222" stroke-width="1.17" rx="1.2"/>
<rect x="544.06" y="295.59" width="30.1" height="5.2" fill="none" stroke="#222" stroke-width="1.17" rx="1.2"/>
<rect x="210.17" y="300.79" width="29.7" height="58" fill="none" stroke="#222" stroke-width="1.17"/>
<rect x="544.73" y="300.79" width="29.7" height="58" fill="none" stroke="#222" stroke-width="1.17"/>
<rect x="209.91" y="358.79" width="30.1" height="5.2" fill="none" stroke="#222" stroke-width="1.17" rx="1.2"/>
<rect x="544.59" y="358.79" width="30.1" height="5.2" fill="none" stroke="#222" stroke-width="1.17" rx="1.2"/>
<line x1="215.67" y1="300.75" x2="215.67" y2="358.75" stroke="#222" stroke-width="1.04"/>
<line x1="568.93" y1="300.75" x2="568.93" y2="358.75" stroke="#222" stroke-width="1.04"/>
<line x1="219.07" y1="300.76" x2="219.07" y2="358.76" stroke="#222" stroke-width="1.04"/>
<line x1="565.53" y1="300.76" x2="565.53" y2="358.76" stroke="#222" stroke-width="1.04"/>
<line x1="210.26" y1="320.19" x2="239.96" y2="320.19" stroke="#222" stroke-width="1.04"/>
<line x1="574.34" y1="320.19" x2="544.64" y2="320.19" stroke="#222" stroke-width="1.04"/>
<line x1="210.09" y1="339.69" x2="239.79" y2="339.69" stroke="#222" stroke-width="1.04"/>
<line x1="574.51" y1="339.69" x2="544.81" y2="339.69" stroke="#222" stroke-width="1.04"/>
<rect x="250.28" y="308.67" width="20.7" height="41.8" fill="none" stroke="#222" stroke-width="1.17"/>
<rect x="513.62" y="308.67" width="20.7" height="41.8" fill="none" stroke="#222" stroke-width="1.17"/>
<rect x="247.01" y="370.57" width="27.2" height="27.8" fill="none" stroke="#222" stroke-width="1.17" rx="1.2"/>
<rect x="510.39" y="370.57" width="27.2" height="27.8" fill="none" stroke="#222" stroke-width="1.17" rx="1.2"/>
<line x1="252.21" y1="370.92" x2="252.21" y2="397.92" stroke="#222" stroke-width="1.04"/>
<line x1="532.39" y1="370.92" x2="532.39" y2="397.92" stroke="#222" stroke-width="1.04"/>
<line x1="269.01" y1="371.01" x2="269.01" y2="398.01" stroke="#222" stroke-width="1.04"/>
<line x1="515.59" y1="371.01" x2="515.59" y2="398.01" stroke="#222" stroke-width="1.04"/>
<line x1="252.17" y1="388.87" x2="268.97" y2="388.87" stroke="#222" stroke-width="1.04"/>
<line x1="532.43" y1="388.87" x2="515.63" y2="388.87" stroke="#222" stroke-width="1.04"/>
<line x1="252.14" y1="392.17" x2="268.94" y2="392.17" stroke="#222" stroke-width="1.04"/>
<line x1="532.46" y1="392.17" x2="515.66" y2="392.17" stroke="#222" stroke-width="1.04"/>
<rect x="365.67" y="308.93" width="20.2" height="41.5" fill="none" stroke="#222" stroke-width="1.17"/>
<rect x="398.73" y="308.93" width="20.2" height="41.5" fill="none" stroke="#222" stroke-width="1.17"/>
<path d="M 375.78 312.43 L 375.78 345.93" fill="none" stroke="#222" stroke-width="1.17"/>
<path d="M 408.82 312.43 L 408.82 345.93" fill="none" stroke="#222" stroke-width="1.17"/>
<path d="M 374.58 319.93 L 376.98 319.93 L 376.98 338.93 L 374.58 338.93 Z" fill="#555" stroke="#222" stroke-width="0.65"/>
<path d="M 410.02 319.93 L 407.62 319.93 L 407.62 338.93 L 410.02 338.93 Z" fill="#555" stroke="#222" stroke-width="0.65"/>
<circle cx="385.79" cy="351.28" r="1.4" fill="#888" stroke="#222" stroke-width="0.78"/>
<circle cx="398.81" cy="351.28" r="1.4" fill="#888" stroke="#222" stroke-width="0.78"/>
<line x1="209.57" y1="365.45" x2="385.77" y2="365.45" stroke="#222" stroke-width="1.04"/>
<line x1="575.03" y1="365.45" x2="398.83" y2="365.45" stroke="#222" stroke-width="1.04"/>
<line x1="349.11" y1="361.3" x2="349.11" y2="455.6" stroke="#222" stroke-width="1.04"/>
<line x1="435.49" y1="361.3" x2="435.49" y2="455.6" stroke="#222" stroke-width="1.04"/>
<line x1="347.85" y1="367.49" x2="351.08" y2="363.91" stroke="#222" stroke-width="1.3"/>
<line x1="436.75" y1="367.49" x2="433.52" y2="363.91" stroke="#222" stroke-width="1.3"/>
<line x1="324.48" y1="361.68" x2="324.48" y2="366.68" stroke="#222" stroke-width="1.04"/>
<line x1="460.12" y1="361.68" x2="460.12" y2="366.68" stroke="#222" stroke-width="1.04"/>
<text x="280.11" y="361.46" font-size="9.0" text-anchor="middle" dominant-baseline="central" fill="#222">4,13</text>
<text x="367.6" y="361.89" font-size="9.0" text-anchor="middle" dominant-baseline="central" fill="#222">1,10</text>
<text x="417.71" y="361.34" font-size="9.0" text-anchor="middle" dominant-baseline="central" fill="#222">1,10</text>
<text x="505.61" y="361.47" font-size="9.0" text-anchor="middle" dominant-baseline="central" fill="#222">4,13</text>
<rect x="208.61" y="465.15" width="55.3" height="27.2" fill="none" stroke="#222" stroke-width="1.17"/>
<rect x="520.69" y="465.15" width="55.3" height="27.2" fill="none" stroke="#222" stroke-width="1.17"/>
<rect x="216.6" y="447.88" width="12.3" height="17.2" fill="none" stroke="#222" stroke-width="1.17" rx="1"/>
<rect x="555.7" y="447.88" width="12.3" height="17.2" fill="none" stroke="#222" stroke-width="1.17" rx="1"/>
<rect x="216.22" y="492.28" width="12.3" height="17.2" fill="none" stroke="#222" stroke-width="1.17" rx="1"/>
<rect x="556.08" y="492.28" width="12.3" height="17.2" fill="none" stroke="#222" stroke-width="1.17" rx="1"/>
<rect x="243.2" y="448.02" width="14.3" height="17.2" fill="none" stroke="#222" stroke-width="1.17" rx="1"/>
<rect x="527.1" y="448.02" width="14.3" height="17.2" fill="none" stroke="#222" stroke-width="1.17" rx="1"/>
<rect x="242.82" y="492.41" width="14.3" height="17.2" fill="none" stroke="#222" stroke-width="1.17" rx="1"/>
<rect x="527.48" y="492.41" width="14.3" height="17.2" fill="none" stroke="#222" stroke-width="1.17" rx="1"/>
<line x1="197.71" y1="478.74" x2="230.01" y2="478.74" stroke="#222" stroke-width="1.17"/>
<line x1="586.89" y1="478.74" x2="554.59" y2="478.74" stroke="#222" stroke-width="1.17"/>
<circle cx="190.11" cy="478.52" r="6.9" fill="#fff" stroke="#222" stroke-width="1.17"/>
<text x="190.11" y="478.52" font-size="8.6" text-anchor="middle" dominant-baseline="central" transform="rotate(-90 190.11 478.52)" letter-spacing="-0.3" fill="#222">O2</text>
<circle cx="595.61" cy="478.51" r="8.3" fill="#fff" stroke="#222" stroke-width="1.17"/>
<text x="595.61" y="478.51" font-size="9.0" text-anchor="middle" dominant-baseline="central" transform="rotate(-90 595.61 478.51)" letter-spacing="-0.3" fill="#222">O2</text>
<line x1="555.01" y1="478.29" x2="587.31" y2="478.29" stroke="#222" stroke-width="1.17"/>
<text x="220.61" y="478.77" font-size="8.4" text-anchor="middle" dominant-baseline="central" transform="rotate(-90 220.61 478.77)" fill="#222">hp=85cm</text>
<text x="564.61" y="478.86" font-size="8.4" text-anchor="middle" dominant-baseline="central" transform="rotate(-90 564.61 478.86)" fill="#222">hp=85cm</text>
<rect x="209.99" y="522.54" width="10" height="10.9" fill="#1a1a1a" stroke="#222" stroke-width="0.78"/>
<rect x="564.61" y="522.54" width="10" height="10.9" fill="#1a1a1a" stroke="#222" stroke-width="0.78"/>
<circle cx="214.99" cy="527.94" r="3.2" fill="#fff" stroke="#222" stroke-width="0.78"/>
<circle cx="569.61" cy="527.94" r="3.2" fill="#fff" stroke="#222" stroke-width="0.78"/>
<path d="M 219.98 522.13 L 238.58 522.13 L 238.58 543.63" fill="none" stroke="#222" stroke-width="1.04" stroke-dasharray="3 2"/>
<path d="M 564.62 522.13 L 546.02 522.13 L 546.02 543.63" fill="none" stroke="#222" stroke-width="1.04" stroke-dasharray="3 2"/>
<line x1="224.25" y1="522.09" x2="224.25" y2="543.59" stroke="#222" stroke-width="0.78"/>
<line x1="560.35" y1="522.09" x2="560.35" y2="543.59" stroke="#222" stroke-width="0.78"/>
<line x1="219.99" y1="528.01" x2="238.59" y2="528.01" stroke="#222" stroke-width="0.78"/>
<line x1="564.61" y1="528.01" x2="546.01" y2="528.01" stroke="#222" stroke-width="0.78"/>
<line x1="214.13" y1="544.64" x2="214.13" y2="548.64" stroke="#222" stroke-width="0.91"/>
<line x1="570.47" y1="544.64" x2="570.47" y2="548.64" stroke="#222" stroke-width="0.91"/>
<path d="M 212.95 545.64 L 214.15 542.74 L 215.35 545.64 Z" fill="#111" stroke="#222" stroke-width="0.39"/>
<path d="M 571.65 545.64 L 570.45 542.74 L 569.25 545.64 Z" fill="#111" stroke="#222" stroke-width="0.39"/>
<line x1="224.13" y1="544.69" x2="224.13" y2="548.69" stroke="#222" stroke-width="0.91"/>
<line x1="560.47" y1="544.69" x2="560.47" y2="548.69" stroke="#222" stroke-width="0.91"/>
<path d="M 222.95 545.69 L 224.15 542.79 L 225.35 545.69 Z" fill="#111" stroke="#222" stroke-width="0.39"/>
<path d="M 561.65 545.69 L 560.45 542.79 L 559.25 545.69 Z" fill="#111" stroke="#222" stroke-width="0.39"/>
<line x1="234.13" y1="544.74" x2="234.13" y2="548.74" stroke="#222" stroke-width="0.91"/>
<line x1="550.47" y1="544.74" x2="550.47" y2="548.74" stroke="#222" stroke-width="0.91"/>
<path d="M 232.95 545.74 L 234.15 542.84 L 235.35 545.74 Z" fill="#111" stroke="#222" stroke-width="0.39"/>
<path d="M 551.65 545.74 L 550.45 542.84 L 549.25 545.74 Z" fill="#111" stroke="#222" stroke-width="0.39"/>
<line x1="235.41" y1="549.23" x2="311.41" y2="549.23" stroke="#222" stroke-width="1.17" stroke-dasharray="9 6"/>
<line x1="549.19" y1="549.23" x2="473.19" y2="549.23" stroke="#222" stroke-width="1.17" stroke-dasharray="9 6"/>
<line x1="171.58" y1="529.02" x2="209.58" y2="529.02" stroke="#222" stroke-width="0.91"/>
<line x1="613.02" y1="529.02" x2="575.02" y2="529.02" stroke="#222" stroke-width="0.91"/>
<text x="181.9" y="526.78" font-size="9.0" text-anchor="middle" dominant-baseline="central" fill="#222">Ø110</text>
<text x="602.7" y="526.84" font-size="9.0" text-anchor="middle" dominant-baseline="central" fill="#222">Ø110</text>
<line x1="579.57" y1="530.82" x2="615.57" y2="530.82" stroke="#222" stroke-width="0.91"/>
<path d="M 229.88 548.02 L 229.88 650.22 L 291.68 650.22 L 291.68 605.62 L 311.98 605.62" fill="none" stroke="#222" stroke-width="1.17"/>
<path d="M 554.72 548.02 L 554.72 650.22 L 492.92 650.22 L 492.92 605.62 L 472.62 605.62" fill="none" stroke="#222" stroke-width="1.17"/>
<rect x="212.35" y="605.37" width="17" height="19.5" fill="none" stroke="#222" stroke-width="1.17"/>
<rect x="555.25" y="605.37" width="17" height="19.5" fill="none" stroke="#222" stroke-width="1.17"/>
<rect x="213.36" y="606.67" width="15" height="15" fill="none" stroke="#222" stroke-width="0.65"/>
<rect x="556.24" y="606.67" width="15" height="15" fill="none" stroke="#222" stroke-width="0.65"/>
<circle cx="218.39" cy="610.96" r="2.4" fill="#fff" stroke="#222" stroke-width="0.91"/>
<circle cx="566.21" cy="610.96" r="2.4" fill="#fff" stroke="#222" stroke-width="0.91"/>
<circle cx="224.29" cy="610.99" r="2.4" fill="#fff" stroke="#222" stroke-width="0.91"/>
<circle cx="560.31" cy="610.99" r="2.4" fill="#fff" stroke="#222" stroke-width="0.91"/>
<circle cx="218.33" cy="618.56" r="2.4" fill="#fff" stroke="#222" stroke-width="0.91"/>
<circle cx="566.27" cy="618.56" r="2.4" fill="#fff" stroke="#222" stroke-width="0.91"/>
<circle cx="224.22" cy="618.59" r="2.4" fill="#fff" stroke="#222" stroke-width="0.91"/>
<circle cx="560.38" cy="618.59" r="2.4" fill="#fff" stroke="#222" stroke-width="0.91"/>
<line x1="213.78" y1="623.37" x2="227.78" y2="623.37" stroke="#222" stroke-width="1.17" stroke-dasharray="1 1"/>
<line x1="570.82" y1="623.37" x2="556.82" y2="623.37" stroke="#222" stroke-width="1.17" stroke-dasharray="1 1"/>
<rect x="291.65" y="605.77" width="20.3" height="19.5" fill="none" stroke="#222" stroke-width="1.17"/>
<rect x="472.65" y="605.77" width="20.3" height="19.5" fill="none" stroke="#222" stroke-width="1.17"/>
<line x1="294.95" y1="605.73" x2="294.95" y2="625.23" stroke="#222" stroke-width="0.91"/>
<line x1="489.65" y1="605.73" x2="489.65" y2="625.23" stroke="#222" stroke-width="0.91"/>
<line x1="291.57" y1="625.27" x2="311.87" y2="625.27" stroke="#222" stroke-width="1.04"/>
<line x1="493.03" y1="625.27" x2="472.73" y2="625.27" stroke="#222" stroke-width="1.04"/>
<rect x="244.96" y="652.96" width="27.1" height="17" fill="none" stroke="#222" stroke-width="1.17" rx="1.5"/>
<rect x="512.54" y="652.96" width="27.1" height="17" fill="none" stroke="#222" stroke-width="1.17" rx="1.5"/>
<rect x="246.96" y="654.82" width="10" height="13" fill="none" stroke="#222" stroke-width="0.78" rx="1.5"/>
<rect x="527.64" y="654.82" width="10" height="13" fill="none" stroke="#222" stroke-width="0.78" rx="1.5"/>
<rect x="258.46" y="654.88" width="11.6" height="13" fill="none" stroke="#222" stroke-width="0.78" rx="1.5"/>
<rect x="514.54" y="654.88" width="11.6" height="13" fill="none" stroke="#222" stroke-width="0.78" rx="1.5"/>
<text x="254.06" y="590.33" font-size="9.2" text-anchor="middle" dominant-baseline="central" fill="#222">Kuchnia</text>
<text x="258.15" y="603.85" font-size="9.2" text-anchor="middle" dominant-baseline="central" fill="#222">13,354 m<tspan font-size="5.5" dy="-3">2</tspan></text>
<text x="521.47" y="590.24" font-size="9.2" text-anchor="middle" dominant-baseline="central" fill="#222">Kuchnia</text>
<text x="526.25" y="603.67" font-size="9.2" text-anchor="middle" dominant-baseline="central" fill="#222">13,354 m<tspan font-size="5.5" dy="-3">2</tspan></text>
<text x="257.66" y="661.15" font-size="8.8" text-anchor="middle" dominant-baseline="central" fill="#222">hp=85cm</text>
<text x="527.16" y="661.07" font-size="8.8" text-anchor="middle" dominant-baseline="central" fill="#222">hp=85cm</text>
<rect x="376.13" y="542.15" width="9.3" height="10" fill="#1a1a1a" stroke="#222" stroke-width="0.78"/>
<rect x="399.17" y="542.15" width="9.3" height="10" fill="#1a1a1a" stroke="#222" stroke-width="0.78"/>
<circle cx="380.83" cy="547.16" r="3.0" fill="#fff" stroke="#222" stroke-width="0.78"/>
<circle cx="403.77" cy="547.16" r="3.0" fill="#fff" stroke="#222" stroke-width="0.78"/>
<rect x="354.47" y="554.3" width="30.8" height="24.3" fill="none" stroke="#222" stroke-width="1.3" rx="2"/>
<rect x="399.33" y="554.3" width="30.8" height="24.3" fill="none" stroke="#222" stroke-width="1.3" rx="2"/>
<rect x="356.47" y="556.3" width="26.8" height="20.3" fill="none" stroke="#222" stroke-width="0.78" rx="1.5"/>
<rect x="401.33" y="556.3" width="26.8" height="20.3" fill="none" stroke="#222" stroke-width="0.78" rx="1.5"/>
<line x1="358.13" y1="559.24" x2="376.64" y2="570.03" stroke="#222" stroke-width="1.17"/>
<line x1="426.47" y1="559.24" x2="407.96" y2="570.03" stroke="#222" stroke-width="1.17"/>
<line x1="358.01" y1="572.89" x2="377.21" y2="572.89" stroke="#222" stroke-width="1.17"/>
<line x1="426.59" y1="572.89" x2="407.39" y2="572.89" stroke="#222" stroke-width="1.17"/>
<line x1="380.29" y1="558.95" x2="380.29" y2="568.95" stroke="#222" stroke-width="1.3" stroke-dasharray="2 1.5"/>
<line x1="404.31" y1="558.95" x2="404.31" y2="568.95" stroke="#222" stroke-width="1.3" stroke-dasharray="2 1.5"/>
<circle cx="380.22" cy="572.55" r="0.9" fill="#111" stroke="#222" stroke-width="0.39"/>
<circle cx="404.38" cy="572.55" r="0.9" fill="#111" stroke="#222" stroke-width="0.39"/>
<rect x="349.23" y="581.49" width="36.5" height="26.5" fill="none" stroke="#222" stroke-width="1.17"/>
<rect x="398.87" y="581.49" width="36.5" height="26.5" fill="none" stroke="#222" stroke-width="1.17"/>
<line x1="349.34" y1="581.4" x2="385.61" y2="608.08" stroke="#222" stroke-width="0.91"/>
<line x1="435.26" y1="581.4" x2="398.99" y2="608.08" stroke="#222" stroke-width="0.91"/>
<line x1="349.12" y1="607.9" x2="385.84" y2="581.58" stroke="#222" stroke-width="0.91"/>
<line x1="435.48" y1="607.9" x2="398.76" y2="581.58" stroke="#222" stroke-width="0.91"/>
<rect x="365.24" y="610.13" width="20.1" height="60" fill="none" stroke="#222" stroke-width="1.17"/>
<rect x="399.26" y="610.13" width="20.1" height="60" fill="none" stroke="#222" stroke-width="1.17"/>
<line x1="365.5" y1="610.08" x2="385.09" y2="670.18" stroke="#222" stroke-width="0.91"/>
<line x1="419.1" y1="610.08" x2="399.51" y2="670.18" stroke="#222" stroke-width="0.91"/>
<line x1="364.99" y1="670.08" x2="385.6" y2="610.18" stroke="#222" stroke-width="0.91"/>
<line x1="419.61" y1="670.08" x2="399" y2="610.18" stroke="#222" stroke-width="0.91"/>
<path d="M 363.9 490.4 L 374.9 490.4 L 374.9 493.9 L 363.9 493.9 Z" fill="none" stroke="#222" stroke-width="1.04"/>
<path d="M 420.7 490.4 L 409.7 490.4 L 409.7 493.9 L 420.7 493.9 Z" fill="none" stroke="#222" stroke-width="1.04"/>
<ellipse cx="369.21" cy="501.9" rx="5.0" ry="7.0" fill="#fff" stroke="#111" stroke-width="0.9"/>
<ellipse cx="415.39" cy="501.9" rx="5.0" ry="7.0" fill="#fff" stroke="#111" stroke-width="0.9"/>
<ellipse cx="369.21" cy="502.4" rx="3.2" ry="5.0" fill="#fff" stroke="#111" stroke-width="0.6"/>
<ellipse cx="415.39" cy="502.4" rx="3.2" ry="5.0" fill="#fff" stroke="#111" stroke-width="0.6"/>
<ellipse cx="379.8" cy="527.45" rx="5.0" ry="10.0" fill="#fff" stroke="#111" stroke-width="0.9"/>
<ellipse cx="404.8" cy="527.45" rx="5.0" ry="10.0" fill="#fff" stroke="#111" stroke-width="0.9"/>
<ellipse cx="379.8" cy="527.45" rx="3.3" ry="8.2" fill="#fff" stroke="#111" stroke-width="0.6"/>
<ellipse cx="404.8" cy="527.45" rx="3.3" ry="8.2" fill="#fff" stroke="#111" stroke-width="0.6"/>
<circle cx="329.42" cy="524.7" r="7.2" fill="#fff" stroke="#222" stroke-width="1.17"/>
<circle cx="455.18" cy="524.7" r="7.2" fill="#fff" stroke="#222" stroke-width="1.17"/>
<line x1="337.13" y1="524.13" x2="374.63" y2="524.13" stroke="#222" stroke-width="1.04"/>
<line x1="447.47" y1="524.13" x2="409.97" y2="524.13" stroke="#222" stroke-width="1.04"/>
<path d="M 322.22 517.32 L 321.22 510.32 L 353.47 510.32" fill="none" stroke="#222" stroke-width="1.04"/>
<path d="M 462.38 517.32 L 463.38 510.32 L 431.13 510.32" fill="none" stroke="#222" stroke-width="1.04"/>
<path d="M 327.03 530.73 Q 332.53 537.03 345.53 537.93" fill="none" stroke="#222" stroke-width="1.04"/>
<path d="M 457.57 530.73 Q 452.07 537.03 439.07 537.93" fill="none" stroke="#222" stroke-width="1.04"/>
<line x1="343.03" y1="511.27" x2="344.05" y2="520.77" stroke="#444" stroke-width="1.3" stroke-dasharray="2.5 2"/>
<line x1="441.57" y1="511.27" x2="440.55" y2="520.77" stroke="#444" stroke-width="1.3" stroke-dasharray="2.5 2"/>
<line x1="354.62" y1="500.83" x2="376.28" y2="529.33" stroke="#444" stroke-width="1.3" stroke-dasharray="2.5 2"/>
<line x1="429.98" y1="500.83" x2="408.32" y2="529.33" stroke="#444" stroke-width="1.3" stroke-dasharray="2.5 2"/>
<line x1="356.21" y1="513.83" x2="363.64" y2="521.87" stroke="#444" stroke-width="1.3" stroke-dasharray="2.5 2"/>
<line x1="428.39" y1="513.83" x2="420.96" y2="521.87" stroke="#444" stroke-width="1.3" stroke-dasharray="2.5 2"/>
<line x1="344.61" y1="525.78" x2="350.57" y2="530.81" stroke="#444" stroke-width="1.3" stroke-dasharray="2.5 2"/>
<line x1="439.99" y1="525.78" x2="434.03" y2="530.81" stroke="#444" stroke-width="1.3" stroke-dasharray="2.5 2"/>
<line x1="358.57" y1="530.85" x2="362.53" y2="535.87" stroke="#444" stroke-width="1.3" stroke-dasharray="2.5 2"/>
<line x1="426.03" y1="530.85" x2="422.07" y2="535.87" stroke="#444" stroke-width="1.3" stroke-dasharray="2.5 2"/>
<line x1="362.75" y1="509.87" x2="371.69" y2="516.91" stroke="#444" stroke-width="1.3" stroke-dasharray="2.5 2"/>
<line x1="421.85" y1="509.87" x2="412.91" y2="516.91" stroke="#444" stroke-width="1.3" stroke-dasharray="2.5 2"/>
<line x1="345.59" y1="527.78" x2="352.54" y2="533.82" stroke="#444" stroke-width="1.3" stroke-dasharray="2.5 2"/>
<line x1="439.01" y1="527.78" x2="432.06" y2="533.82" stroke="#444" stroke-width="1.3" stroke-dasharray="2.5 2"/>
<line x1="368.57" y1="530.89" x2="376.52" y2="536.93" stroke="#444" stroke-width="1.3" stroke-dasharray="2.5 2"/>
<line x1="416.03" y1="530.89" x2="408.08" y2="536.93" stroke="#444" stroke-width="1.3" stroke-dasharray="2.5 2"/>
<line x1="343.9" y1="539.17" x2="384.5" y2="539.17" stroke="#222" stroke-width="1.17" stroke-dasharray="4 2.5"/>
<line x1="440.7" y1="539.17" x2="400.1" y2="539.17" stroke="#222" stroke-width="1.17" stroke-dasharray="4 2.5"/>
<text x="329.42" y="524.7" font-size="8.4" text-anchor="middle" dominant-baseline="central" transform="rotate(-90 329.42 524.7)" letter-spacing="-0.3" fill="#222">D3</text>
<text x="455.62" y="524.92" font-size="8.4" text-anchor="middle" dominant-baseline="central" transform="rotate(-90 455.62 524.92)" letter-spacing="-0.3" fill="#222">D3</text>
<line x1="315.95" y1="544.92" x2="348.95" y2="544.92" stroke="#222" stroke-width="0.91"/>
<line x1="468.65" y1="544.92" x2="435.65" y2="544.92" stroke="#222" stroke-width="0.91"/>
<line x1="348.94" y1="545.8" x2="376.13" y2="547.43" stroke="#222" stroke-width="0.78"/>
<line x1="435.66" y1="545.8" x2="408.47" y2="547.43" stroke="#222" stroke-width="0.78"/>
<line x1="298.72" y1="548.98" x2="348.92" y2="548.98" stroke="#222" stroke-width="0.91"/>
<line x1="485.88" y1="548.98" x2="435.68" y2="548.98" stroke="#222" stroke-width="0.91"/>
<text x="329.58" y="541.5" font-size="9" text-anchor="middle" dominant-baseline="central" fill="#222">Ø110</text>
<text x="457.17" y="542.33" font-size="9" text-anchor="middle" dominant-baseline="central" fill="#222">Ø110</text>
<text x="325.18" y="552.58" font-size="9" text-anchor="middle" dominant-baseline="central" fill="#222">Łazienka</text>
<text x="461.38" y="553.25" font-size="9" text-anchor="middle" dominant-baseline="central" fill="#222">Łazienka</text>
<text x="326.48" y="565.49" font-size="9" text-anchor="middle" dominant-baseline="central" fill="#222">2,626 m<tspan font-size="5.5" dy="-3">2</tspan></text>
<text x="462.67" y="565.66" font-size="9" text-anchor="middle" dominant-baseline="central" fill="#222">2,626 m<tspan font-size="5.5" dy="-3">2</tspan></text>
<circle cx="332.8" cy="586.72" r="8.6" fill="#fff" stroke="#222" stroke-width="1.3"/>
<circle cx="451.8" cy="586.72" r="8.6" fill="#fff" stroke="#222" stroke-width="1.3"/>
<path d="M 317.43 606.4 A 31.0 31.0 0 0 1 348.43 575.4" fill="none" stroke="#222" stroke-width="1.04"/>
<path d="M 467.17 606.4 A 31.0 31.0 0 0 0 436.17 575.4" fill="none" stroke="#222" stroke-width="1.04"/>
<line x1="333.23" y1="595.32" x2="333.23" y2="639.72" stroke="#222" stroke-width="1.04"/>
<line x1="451.37" y1="595.32" x2="451.37" y2="639.72" stroke="#222" stroke-width="1.04"/>
<circle cx="338.75" cy="650.85" r="8.6" fill="#fff" stroke="#222" stroke-width="1.3"/>
<circle cx="445.85" cy="650.85" r="8.6" fill="#fff" stroke="#222" stroke-width="1.3"/>
<path d="M 316.65 640.14 A 34.0 34.0 0 0 1 350.65 674.14" fill="none" stroke="#222" stroke-width="1.04"/>
<path d="M 467.95 640.14 A 34.0 34.0 0 0 0 433.95 674.14" fill="none" stroke="#222" stroke-width="1.04"/>
<line x1="338.51" y1="659.45" x2="338.51" y2="699.75" stroke="#222" stroke-width="1.04"/>
<line x1="446.09" y1="659.45" x2="446.09" y2="699.75" stroke="#222" stroke-width="1.04"/>
<text x="332.79" y="587.02" font-size="9.2" text-anchor="middle" dominant-baseline="central" letter-spacing="-0.3" fill="#222">D1</text>
<text x="450.4" y="586.6" font-size="9.2" text-anchor="middle" dominant-baseline="central" letter-spacing="-0.3" fill="#222">D1</text>
<text x="338.75" y="651.15" font-size="9.2" text-anchor="middle" dominant-baseline="central" letter-spacing="-0.3" fill="#222">D2</text>
<text x="446.16" y="650.18" font-size="9.2" text-anchor="middle" dominant-baseline="central" letter-spacing="-0.3" fill="#222">D2</text>
<text x="341.11" y="620.76" font-size="9" text-anchor="middle" dominant-baseline="central" fill="#222">Wiatrołap</text>
<text x="443.61" y="620.56" font-size="9" text-anchor="middle" dominant-baseline="central" fill="#222">Wiatrołap</text>
<text x="341.71" y="631.76" font-size="9" text-anchor="middle" dominant-baseline="central" fill="#222">3,759 m<tspan font-size="5.5" dy="-3">2</tspan></text>
<text x="444.9" y="633.27" font-size="9" text-anchor="middle" dominant-baseline="central" fill="#222">3,759 m<tspan font-size="5.5" dy="-3">2</tspan></text>
<path d="M 385.84 418.32 L 322.74 418.32 L 322.74 455.12 L 344.84 455.12 Q 349.34 449.82 358.34 446.32 L 385.84 437.12" fill="none" stroke="#222" stroke-width="1.43"/>
<path d="M 398.76 418.32 L 461.86 418.32 L 461.86 455.12 L 439.76 455.12 Q 435.26 449.82 426.26 446.32 L 398.76 437.12" fill="none" stroke="#222" stroke-width="1.43"/>
<line x1="332.97" y1="418.22" x2="332.97" y2="455.02" stroke="#222" stroke-width="1.56"/>
<line x1="451.63" y1="418.22" x2="451.63" y2="455.02" stroke="#222" stroke-width="1.56"/>
<line x1="342.87" y1="418.27" x2="342.87" y2="455.07" stroke="#222" stroke-width="1.56"/>
<line x1="441.73" y1="418.27" x2="441.73" y2="455.07" stroke="#222" stroke-width="1.56"/>
<line x1="322.79" y1="434.44" x2="352.79" y2="434.44" stroke="#222" stroke-width="1.04"/>
<line x1="461.81" y1="434.44" x2="431.81" y2="434.44" stroke="#222" stroke-width="1.04"/>
<circle cx="322.99" cy="434.37" r="1.3" fill="#111" stroke="#222" stroke-width="0.39"/>
<circle cx="461.61" cy="434.37" r="1.3" fill="#111" stroke="#222" stroke-width="0.39"/>
<line x1="357.02" y1="418.34" x2="347.22" y2="453.79" stroke="#222" stroke-width="1.43"/>
<line x1="427.58" y1="418.34" x2="437.38" y2="453.79" stroke="#222" stroke-width="1.43"/>
<line x1="371.62" y1="418.41" x2="355.25" y2="450.43" stroke="#222" stroke-width="1.43"/>
<line x1="412.98" y1="418.41" x2="429.35" y2="450.43" stroke="#222" stroke-width="1.43"/>
<line x1="371.62" y1="418.41" x2="367.31" y2="443.79" stroke="#222" stroke-width="1.43"/>
<line x1="412.98" y1="418.41" x2="417.29" y2="443.79" stroke="#222" stroke-width="1.43"/>
<line x1="385.96" y1="425.58" x2="368.31" y2="443.79" stroke="#222" stroke-width="1.43"/>
<line x1="398.64" y1="425.58" x2="416.29" y2="443.79" stroke="#222" stroke-width="1.43"/>
<path d="M 352.76 434.56 Q 362.36 435.86 367.36 443.76" fill="none" stroke="#222" stroke-width="1.04"/>
<path d="M 431.84 434.56 Q 422.24 435.86 417.24 443.76" fill="none" stroke="#222" stroke-width="1.04"/>
<line x1="357.54" y1="450.84" x2="357.54" y2="475.84" stroke="#333" stroke-width="1.76" stroke-dasharray="3.2 2.2"/>
<line x1="427.06" y1="450.84" x2="427.06" y2="475.84" stroke="#333" stroke-width="1.76" stroke-dasharray="3.2 2.2"/>
<line x1="368.65" y1="446.9" x2="368.65" y2="476.9" stroke="#333" stroke-width="1.76" stroke-dasharray="3.2 2.2"/>
<line x1="415.95" y1="446.9" x2="415.95" y2="476.9" stroke="#333" stroke-width="1.76" stroke-dasharray="3.2 2.2"/>
<line x1="356.05" y1="473.87" x2="370.05" y2="473.87" stroke="#333" stroke-width="1.76" stroke-dasharray="3.2 2.2"/>
<line x1="428.55" y1="473.87" x2="414.55" y2="473.87" stroke="#333" stroke-width="1.76" stroke-dasharray="3.2 2.2"/>
<line x1="356.15" y1="461.83" x2="366.2" y2="455.88" stroke="#333" stroke-width="1.76" stroke-dasharray="3.2 2.2"/>
<line x1="428.45" y1="461.83" x2="418.4" y2="455.88" stroke="#333" stroke-width="1.76" stroke-dasharray="3.2 2.2"/>
<line x1="372.24" y1="451.91" x2="383.29" y2="445.97" stroke="#333" stroke-width="1.76" stroke-dasharray="3.2 2.2"/>
<line x1="412.36" y1="451.91" x2="401.31" y2="445.97" stroke="#333" stroke-width="1.76" stroke-dasharray="3.2 2.2"/>
<line x1="373.15" y1="461.94" x2="383.15" y2="461.94" stroke="#333" stroke-width="1.76" stroke-dasharray="3.2 2.2"/>
<line x1="411.45" y1="461.94" x2="401.45" y2="461.94" stroke="#333" stroke-width="1.76" stroke-dasharray="3.2 2.2"/>
<line x1="373.09" y1="469.94" x2="383.09" y2="469.94" stroke="#333" stroke-width="1.76" stroke-dasharray="3.2 2.2"/>
<line x1="411.51" y1="469.94" x2="401.51" y2="469.94" stroke="#333" stroke-width="1.76" stroke-dasharray="3.2 2.2"/>
<line x1="380.21" y1="454.95" x2="384.02" y2="477.97" stroke="#333" stroke-width="1.76" stroke-dasharray="3.2 2.2"/>
<line x1="404.39" y1="454.95" x2="400.58" y2="477.97" stroke="#333" stroke-width="1.76" stroke-dasharray="3.2 2.2"/>
<text x="377.87" y="471.44" font-size="6.4" text-anchor="middle" dominant-baseline="central" transform="rotate(90 377.87 471.44)" fill="#222">16x19,27</text>
<text x="407.08" y="470.58" font-size="6.4" text-anchor="middle" dominant-baseline="central" transform="rotate(90 407.08 470.58)" fill="#222">16x19,27</text>
<text x="316.06" y="425.94" font-size="9.2" text-anchor="end" dominant-baseline="central" fill="#222">Salon z jadalnią</text>
<text x="315.95" y="438.64" font-size="9.2" text-anchor="end" dominant-baseline="central" fill="#222">37,681 m<tspan font-size="5.5" dy="-3">2</tspan></text>
<text x="531.46" y="426.19" font-size="9.2" text-anchor="end" dominant-baseline="central" fill="#222">Salon z jadalnią</text>
<text x="531.35" y="438.99" font-size="9.2" text-anchor="end" dominant-baseline="central" fill="#222">37,681 m<tspan font-size="5.5" dy="-3">2</tspan></text>
</g>
<g style="mix-blend-mode:multiply"><text transform="translate(236.90 462.60) scale(0.723 1)" font-size="41.5" font-weight="bold" fill="#c4c9e4" stroke="#c4c9e4" stroke-width="6.2" stroke-linejoin="round" font-family="Liberation Sans">K</text><text transform="translate(261.80 462.60) scale(0.723 1)" font-size="41.5" font-weight="bold" fill="#c4c9e4" stroke="#c4c9e4" stroke-width="6.2" stroke-linejoin="round" font-family="Liberation Sans">o</text><text transform="translate(283.85 462.60) scale(0.908 1)" font-size="41.5" font-weight="bold" fill="#c4c9e4" stroke="#c4c9e4" stroke-width="6.2" stroke-linejoin="round" font-family="Liberation Sans">m</text><text transform="translate(317.95 462.60) scale(0.723 1)" font-size="41.5" font-weight="bold" fill="#c4c9e4" stroke="#c4c9e4" stroke-width="6.2" stroke-linejoin="round" font-family="Liberation Sans">p</text><text transform="translate(339.80 462.60) scale(0.723 1)" font-size="41.5" font-weight="bold" fill="#c4c9e4" stroke="#c4c9e4" stroke-width="6.2" stroke-linejoin="round" font-family="Liberation Sans">l</text><text transform="translate(353.80 462.60) scale(0.723 1)" font-size="41.5" font-weight="bold" fill="#c4c9e4" stroke="#c4c9e4" stroke-width="6.2" stroke-linejoin="round" font-family="Liberation Sans">e</text><text transform="translate(372.80 462.60) scale(0.723 1)" font-size="41.5" font-weight="bold" fill="#c4c9e4" stroke="#c4c9e4" stroke-width="6.2" stroke-linejoin="round" font-family="Liberation Sans">k</text><text transform="translate(398.90 462.60) scale(0.723 1)" font-size="41.5" font-weight="bold" fill="#c4c9e4" stroke="#c4c9e4" stroke-width="6.2" stroke-linejoin="round" font-family="Liberation Sans">s</text><text transform="translate(320.91 507.00) scale(0.68 1)" font-size="25.0" font-weight="bold" fill="#c4c9e4" stroke="#c4c9e4" stroke-width="4.2" stroke-linejoin="round" font-family="Liberation Sans" textLength="246.2" lengthAdjust="spacing">nieruchomości</text><path d="M 236.0 510.5 C 240.0 508.4 252.7 501.5 260.0 498.0 C 267.3 494.5 271.7 492.0 280.0 489.5 C 288.3 487.0 300.0 485.1 310.0 483.2 C 320.0 481.2 326.7 479.2 340.0 477.8 C 353.3 476.4 375.0 475.2 390.0 474.8 C 405.0 474.4 417.7 474.8 430.0 475.3 C 442.3 475.8 453.2 476.6 464.0 477.8 C 474.8 479.1 487.0 481.2 495.0 482.8 C 503.0 484.4 506.0 484.9 512.0 487.5 C 518.0 490.1 527.8 496.7 531.0 498.5 L 531.0 501.5 C 527.8 500.5 518.0 496.8 512.0 495.5 C 506.0 494.2 503.0 495.5 495.0 494.0 C 487.0 492.5 474.8 487.9 464.0 486.5 C 453.2 485.1 442.3 486.1 430.0 485.8 C 417.7 485.5 405.0 484.6 390.0 484.6 C 375.0 484.6 353.3 484.8 340.0 486.0 C 326.7 487.2 320.0 489.9 310.0 491.8 C 300.0 493.7 288.3 495.6 280.0 497.5 C 271.7 499.4 267.3 501.2 260.0 503.5 C 252.7 505.8 240.0 510.2 236.0 511.5 Z" fill="#f4c5b6"/><path d="M427.5 476 L427.5 450 L445 433.5 L460.8 441 L460.8 478" fill="none" stroke="#f4c5b6" stroke-width="6.5" stroke-linejoin="miter"/></g>
<g class="d" font-family="Liberation Sans" fill="#1a1a1a">
<text x="304.3" y="875.9" font-size="9.6" font-weight="bold" text-anchor="middle">LOKAL A</text>
<text x="144.4" y="893.0" font-size="8.6" textLength="212" lengthAdjust="spacingAndGlyphs">POWIERZCHNIA UŻYTKOWA LOKALU B: 113,88 m</text>
<text x="356.6" y="889.0" font-size="5.5">2</text>
<text x="209.3" y="903.4" font-size="8.6" textLength="147" lengthAdjust="spacingAndGlyphs">w tym powierzchnia parteru: 57,42 m</text>
<text x="356.6" y="899.4" font-size="5.5">2</text>
<text x="487.4" y="875.1" font-size="9.6" font-weight="bold" text-anchor="middle">LOKAL B</text>
<text x="428.9" y="891.2" font-size="8.6" textLength="213" lengthAdjust="spacingAndGlyphs">POWIERZCHNIA UŻYTKOWA LOKALU B: 113,88 m</text>
<text x="642.0" y="887.2" font-size="5.5">2</text>
<text x="428.9" y="902.6" font-size="8.6" textLength="144" lengthAdjust="spacingAndGlyphs">w tym powierzchnia parteru: 57,42 m</text>
<text x="573.0" y="898.6" font-size="5.5">2</text>
</g>

</g>
</svg>
</body></html>
